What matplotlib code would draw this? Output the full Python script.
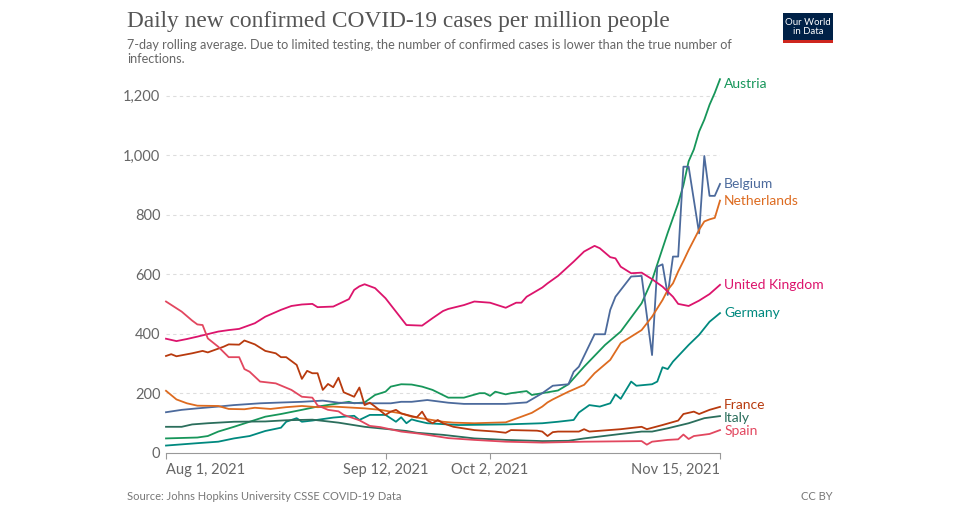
import matplotlib
matplotlib.use('Agg')
import matplotlib.pyplot as plt
from matplotlib.patches import Rectangle
import pandas as pd

start = pd.Timestamp('2021-08-01')
end = pd.Timestamp('2021-11-15')

# days since Aug 1, 2021 and 7-day average cases per million
uk_days = [0, 2, 4, 6, 10, 12, 14, 17, 19, 22, 24, 26, 28, 29, 32, 35, 36, 37, 38, 40, 42, 44, 46, 49, 51,
           53, 54, 57, 59, 62, 65, 67, 68, 69, 72, 73, 75, 78, 80, 82, 83, 85, 86, 87, 89, 91, 93, 95, 97,
           98, 100, 102, 104, 106]
uk_vals = [384, 376, 383, 391, 408, 413, 417, 436, 458, 481, 494, 499, 501, 490, 492, 517, 548, 560, 567, 554,
           520, 475, 430, 428, 453, 477, 484, 497, 509, 505, 488, 505, 505, 525, 556, 570, 595, 643, 677, 696,
           688, 658, 654, 626, 604, 606, 584, 559, 525, 501, 494, 512, 534, 565]

spain_days = [0, 3, 5, 6, 7, 8, 10, 12, 14, 15, 16, 18, 21, 24, 26, 28, 29, 31, 33, 34, 37, 39, 41, 45, 48,
              50, 54, 59, 65, 72, 80, 91, 92, 93, 96, 98, 99, 100, 101, 104, 106]
spain_vals = [509, 475, 445, 432, 430, 385, 357, 322, 322, 282, 273, 240, 234, 212, 189, 186, 160, 145, 140,
              128, 110, 91, 87, 72, 66, 61, 50, 44, 38, 35, 38, 40, 28, 38, 44, 46, 62, 47, 57, 64, 77]

france_days = [0, 1, 2, 5, 7, 8, 11, 12, 14, 15, 17, 19, 21, 22, 23, 25, 26, 27, 28, 29, 30, 31, 32, 33, 34,
               36, 37, 38, 39, 40, 42, 43, 44, 45, 47, 48, 49, 50, 51, 52, 53, 55, 59, 63, 65, 66, 71, 72,
               73, 74, 75, 79, 80, 81, 87, 91, 92, 95, 98, 99, 101, 102, 104, 106]
france_vals = [326, 332, 325, 335, 343, 338, 357, 365, 364, 378, 365, 343, 335, 322, 322, 296, 249, 276, 268,
               268, 212, 232, 221, 253, 204, 189, 220, 161, 169, 156, 128, 139, 145, 133, 124, 120, 139, 110,
               100, 111, 100, 88, 77, 72, 68, 77, 75, 72, 57, 70, 72, 72, 80, 72, 80, 88, 80, 94, 109, 131,
               139, 131, 145, 155]

nl_days = [0, 2, 4, 6, 10, 12, 15, 17, 20, 23, 26, 29, 32, 36, 38, 41, 45, 47, 53, 55, 59, 65, 68, 70, 72,
           73, 74, 77, 80, 82, 85, 87, 91, 93, 95, 96, 97, 98, 99, 100, 102, 103, 104, 105, 106]
nl_vals = [209, 180, 167, 159, 158, 148, 147, 152, 148, 154, 158, 154, 156, 152, 150, 145, 133, 122, 105, 102,
           100, 103, 122, 135, 156, 170, 180, 206, 229, 268, 313, 369, 413, 458, 514, 548, 570, 610, 645,
           682, 750, 778, 785, 790, 848]

belgium_days = [0, 3, 6, 10, 13, 18, 21, 26, 30, 33, 38, 43, 45, 47, 50, 54, 57, 65, 69, 72, 74, 77, 78, 79,
                82, 84, 85, 86, 89, 91, 93, 94, 95, 96, 97, 98, 99, 100, 102, 103, 104, 105, 106]
belgium_vals = [137, 145, 150, 156, 161, 167, 169, 172, 176, 169, 167, 167, 172, 172, 178, 169, 165, 165,
                170, 201, 226, 231, 273, 290, 399, 399, 481, 525, 593, 595, 329, 626, 634, 531, 660, 660,
                962, 962, 738, 998, 864, 864, 904]

austria_days = [0, 6, 8, 10, 13, 16, 19, 22, 26, 29, 32, 35, 36, 38, 40, 42, 43, 45, 47, 49, 51, 54, 57, 60,
                61, 62, 63, 65, 66, 69, 70, 72, 75, 77, 80, 84, 87, 91, 93, 96, 98, 99, 100, 101, 102, 103,
                104, 105, 106]
austria_vals = [49, 52, 57, 72, 88, 105, 122, 131, 145, 156, 164, 172, 167, 170, 195, 206, 223, 231, 230, 223,
                212, 186, 186, 201, 201, 192, 206, 197, 201, 208, 195, 201, 210, 231, 290, 363, 408, 503,
                581, 740, 839, 900, 980, 1020, 1080, 1120, 1170, 1210, 1256]

germany_days = [0, 6, 10, 13, 16, 19, 22, 23, 25, 26, 28, 32, 36, 37, 39, 42, 44, 45, 46, 47, 48, 50, 56, 65,
                72, 75, 78, 79, 81, 83, 85, 86, 87, 89, 90, 93, 94, 95, 96, 97, 100, 102, 104, 106]
germany_vals = [25, 33, 38, 49, 57, 74, 85, 105, 117, 105, 109, 119, 125, 111, 128, 128, 105, 120, 100, 113,
                108, 100, 94, 96, 100, 105, 111, 136, 161, 156, 167, 197, 182, 240, 226, 231, 240, 288, 282,
                307, 363, 397, 441, 470]

italy_days = [0, 3, 5, 8, 13, 19, 23, 28, 33, 38, 42, 46, 48, 53, 59, 65, 72, 77, 80, 87, 91, 93, 96, 100,
              103, 106]
italy_vals = [88, 88, 96, 100, 105, 106, 110, 112, 102, 88, 81, 74, 68, 61, 49, 44, 40, 41, 49, 64, 72, 72,
              83, 100, 117, 124]

series = [
    ('Austria', austria_days, austria_vals, '#17965a'),
    ('Belgium', belgium_days, belgium_vals, '#4c6a9c'),
    ('Netherlands', nl_days, nl_vals, '#dd6b20'),
    ('United Kingdom', uk_days, uk_vals, '#dc146c'),
    ('Germany', germany_days, germany_vals, '#00897f'),
    ('France', france_days, france_vals, '#b83a0e'),
    ('Italy', italy_days, italy_vals, '#2b6e5c'),
    ('Spain', spain_days, spain_vals, '#e2475f'),
]

tick_dates = ['2021-08-01', '2021-09-12', '2021-10-02', '2021-11-15']
tick_labels = ['Aug 1, 2021', 'Sep 12, 2021', 'Oct 2, 2021', 'Nov 15, 2021']
y_ticks = [0, 200, 400, 600, 800, 1000, 1200]

plt.rcParams['font.family'] = ['Lato', 'DejaVu Sans']

fig = plt.figure(figsize=(9.6, 5.17), dpi=100)
ax = fig.add_axes([166 / 960, 1 - 453 / 517, 554 / 960, 375 / 517])

for name, days, vals, color in series:
    x = start + pd.to_timedelta(days, unit='D')
    ax.plot(x, vals, color=color, lw=1.3, solid_joinstyle='round', clip_on=False)

# end labels, nudged apart where they would overlap
ymax = 1260
labels = [[s[2][-1], s[0], s[3]] for s in series]
labels.sort(key=lambda l: l[0])
min_gap = 44
for _ in range(20):
    for i in range(len(labels) - 1):
        gap = labels[i + 1][0] - labels[i][0]
        if gap < min_gap:
            shift = (min_gap - gap) / 2
            labels[i][0] -= shift
            labels[i + 1][0] += shift
for ypos, name, color in labels:
    ax.annotate(name, xy=(end, min(ypos, ymax - 20)), xytext=(3, 0), textcoords='offset points',
                color=color, fontsize=10, va='center', ha='left', annotation_clip=False)

ax.set_xlim(start, end)
ax.set_ylim(0, ymax)

ax.set_yticks(y_ticks)
ax.set_yticklabels(['{:,}'.format(v) for v in y_ticks])
for v in y_ticks[1:]:
    ax.axhline(v, color='#dddddd', lw=0.8, ls=(0, (3, 3)), zorder=0)

ax.set_xticks([pd.Timestamp(d) for d in tick_dates])
ax.set_xticklabels(tick_labels)
for lbl, ha in zip(ax.get_xticklabels(), ['left', 'center', 'center', 'right']):
    lbl.set_ha(ha)

ax.tick_params(axis='y', length=0, pad=4, labelsize=10.5, labelcolor='#666666')
ax.tick_params(axis='x', length=4, width=0.8, color='#999999', pad=3, labelsize=10.5, labelcolor='#666666')
for side in ['top', 'right', 'left']:
    ax.spines[side].set_visible(False)
ax.spines['bottom'].set_color('#999999')
ax.spines['bottom'].set_linewidth(0.8)

fig.text(127 / 960, 1 - 22 / 517, 'Daily new confirmed COVID-19 cases per million people',
         family='Liberation Serif', fontsize=16.8, color='#555555', va='center', ha='left')
fig.text(127 / 960, 1 - 52 / 517,
         '7-day rolling average. Due to limited testing, the number of confirmed cases is lower than the true number of\ninfections.',
         fontsize=9.1, color='#666666', va='center', ha='left', linespacing=1.15)
fig.text(127 / 960, 1 - 497 / 517, 'Source: Johns Hopkins University CSSE COVID-19 Data',
         fontsize=8, color='#777777', va='center', ha='left')
fig.text(833 / 960, 1 - 497 / 517, 'CC BY', fontsize=8, color='#777777', va='center', ha='right')

# OWID logo
fig.patches.append(Rectangle((783 / 960, 1 - 41 / 517), 50 / 960, 28 / 517,
                             transform=fig.transFigure, facecolor='#002147', edgecolor='none'))
fig.patches.append(Rectangle((783 / 960, 1 - 43 / 517), 50 / 960, 2.5 / 517,
                             transform=fig.transFigure, facecolor='#ce261e', edgecolor='none'))
fig.text(808 / 960, 1 - 27 / 517, 'Our World\nin Data', fontsize=6.9, color='white',
         va='center', ha='center', linespacing=1.0)

fig.savefig('out.png', dpi=100)
